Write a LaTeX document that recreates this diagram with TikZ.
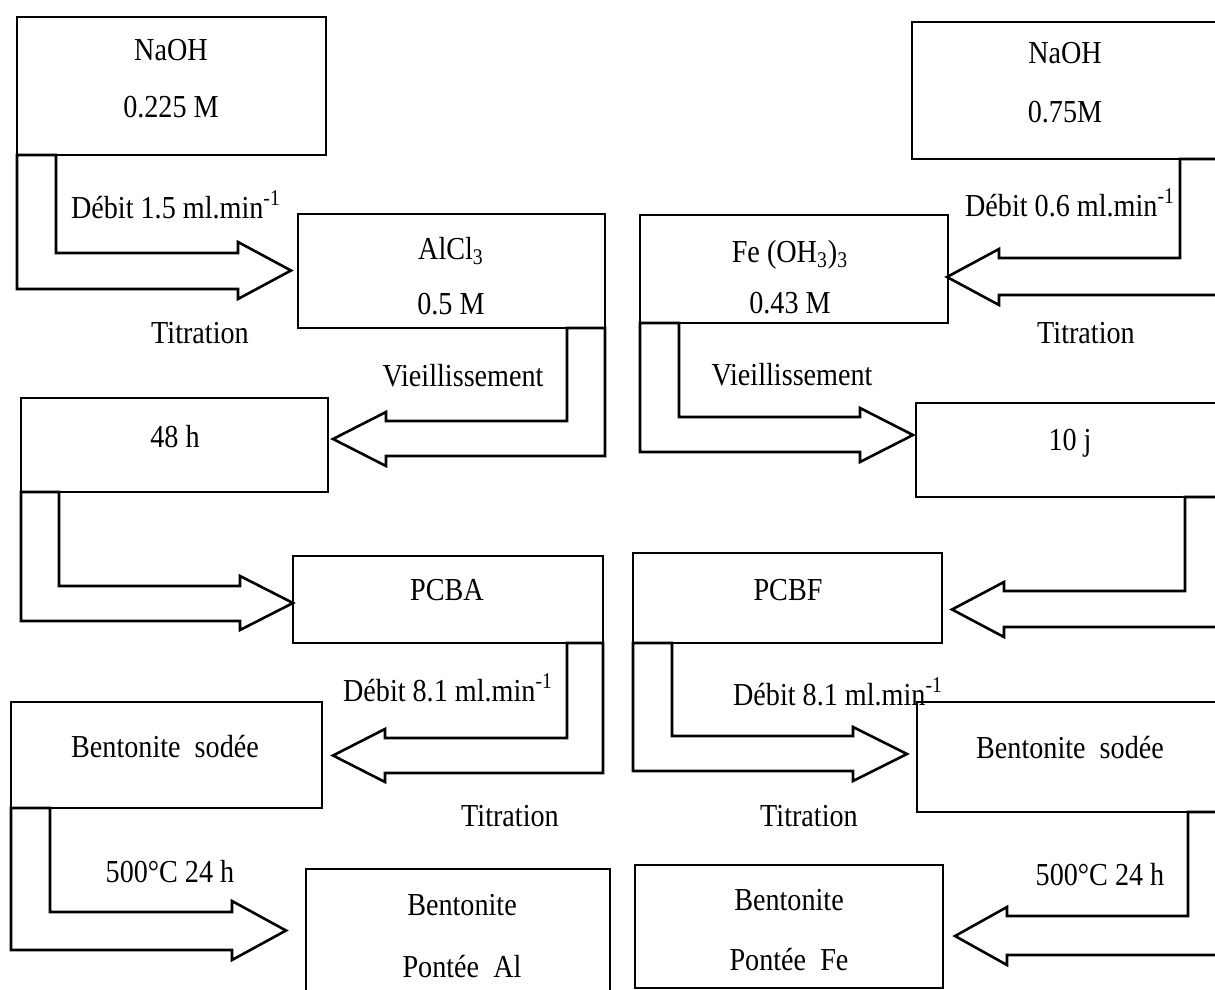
\documentclass[tikz,border=0pt]{standalone}
\usepackage{fontspec}
\setmainfont[FakeStretch=0.88]{Liberation Serif}
\usetikzlibrary{fit}
\tikzset{
  box/.style={draw, line width=1.3pt, inner sep=0pt, rectangle},
  lbl/.style={inner sep=0pt, font=\fontsize{16}{19}\selectfont},
  barrow/.style={draw, line width=1.3pt, line join=miter},
}
% #1 xo, #2 xi, #3 yb, #4 yi, #5 yo, #6 xh, #7 head top, #8 head bottom, #9 tip x
\newcommand\blockarrow[9]{%
  \draw[barrow] (#1,#3) -- (#2,#3) -- (#2,#4) -- (#6,#4) -- (#6,#7) -- (#9,{(#7+#8)/2}) -- (#6,#8) -- (#6,#5) -- (#1,#5) -- cycle;}
\begin{document}
\begin{tikzpicture}[x=0.5pt,y=-0.5pt]
\useasboundingbox (0,0) rectangle (1215,990);
\clip (0,0) rectangle (1215,990);
% ---------- left column ----------
\node[box, fit={(17,17) (326,155)}] (naohL) {};
\node[lbl] (naohLa) at (171,50) {NaOH};
\node[lbl] (naohLb) at (171,107) {0.225 M};
\node[box, fit={(298,214) (605,328)}] (alcl) {};
\node[lbl] (alcla) at (451,251) {AlCl\textsubscript{3}};
\node[lbl] (alclb) at (451,304) {0.5 M};
\node[box, fit={(21,398) (328,492)}] (h48) {};
\node[lbl] (h48a) at (175,437) {48 h};
\node[box, fit={(293,556) (603,643)}] (pcba) {};
\node[lbl] (pcbaa) at (447,590) {PCBA};
\node[box, fit={(11,702) (322,808)}] (bsL) {};
\node[lbl] (bsLa) at (165,747) {Bentonite\ \ sodée};
\node[box, fit={(306,869) (610,1000)}] (bpAl) {};
\node[lbl] (bpAla) at (462,905) {Bentonite};
\node[lbl] (bpAlb) at (462,967) {Pontée\ \ Al};
% arrows left
\blockarrow{17}{56}{155}{253}{289}{238}{242}{299}{291}
\blockarrow{605}{567}{328}{421}{456}{386}{412}{466}{333}
\blockarrow{21}{59}{492}{586}{621}{240}{576}{630}{293}
\blockarrow{603}{567}{643}{738}{773}{385}{729}{782}{333}
\blockarrow{11}{50}{808}{912}{950}{232}{901}{960}{286}
% labels left
\node[lbl] (l1) at (176,205) {Débit 1.5 ml.min\textsuperscript{-1}};
\node[lbl] (l2) at (200,333) {Titration};
\node[lbl] (l3) at (463,376) {Vieillissement};
\node[lbl] (l4) at (448,688) {Débit 8.1 ml.min\textsuperscript{-1}};
\node[lbl] (l5) at (510,816) {Titration};
\node[lbl] (l6) at (170,872) {500°C 24 h};
% ---------- right column ----------
\node[box, fit={(912,22) (1230,159)}] (naohR) {};
\node[lbl] (naohRa) at (1065,53) {NaOH};
\node[lbl] (naohRb) at (1065,112) {0.75M};
\node[box, fit={(640,215) (948,323)}] (fe) {};
\node[lbl] (fea) at (790,255) {Fe (OH\textsubscript{3})\textsubscript{3}};
\node[lbl] (feb) at (790,303) {0.43 M};
\node[box, fit={(916,403) (1230,497)}] (j10) {};
\node[lbl] (j10a) at (1070,443) {10 j};
\node[box, fit={(633,553) (942,643)}] (pcbf) {};
\node[lbl] (pcbfa) at (788,590) {PCBF};
\node[box, fit={(917,702) (1230,812)}] (bsR) {};
\node[lbl] (bsRa) at (1070,748) {Bentonite\ \ sodée};
\node[box, fit={(635,865) (943,988)}] (bpFe) {};
\node[lbl] (bpFea) at (789,900) {Bentonite};
\node[lbl] (bpFeb) at (789,960) {Pontée\ \ Fe};
% arrows right
\blockarrow{1230}{1180}{159}{258}{295}{999}{249}{305}{947}
\blockarrow{640}{679}{323}{417}{452}{860}{408}{462}{913}
\blockarrow{1230}{1185}{497}{591}{627}{1004}{582}{637}{952}
\blockarrow{633}{672}{643}{736}{771}{853}{727}{781}{907}
\blockarrow{1230}{1188}{812}{916}{955}{1007}{907}{965}{955}
% labels right
\node[lbl] (r1) at (1070,203) {Débit 0.6 ml.min\textsuperscript{-1}};
\node[lbl] (r2) at (1086,333) {Titration};
\node[lbl] (r3) at (792,375) {Vieillissement};
\node[lbl] (r4) at (838,692) {Débit 8.1 ml.min\textsuperscript{-1}};
\node[lbl] (r5) at (809,816) {Titration};
\node[lbl] (r6) at (1100,875) {500°C 24 h};
\end{tikzpicture}
\end{document}
